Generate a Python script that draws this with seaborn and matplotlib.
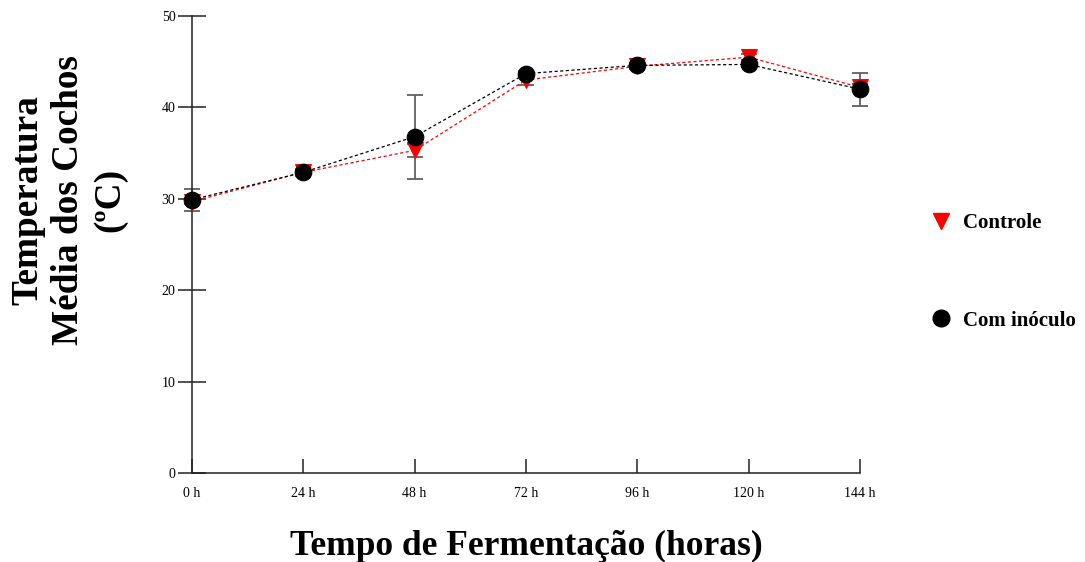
import numpy as np
import pandas as pd
import matplotlib
matplotlib.use("Agg")
import matplotlib.pyplot as plt
import seaborn as sns
from matplotlib.lines import Line2D

hours = [0, 24, 48, 72, 96, 120, 144]
tick_labels = ["0 h", "24 h", "48 h", "72 h", "96 h", "120 h", "144 h"]

controle = [29.7, 32.9, 35.3, 43.0, 44.5, 45.5, 42.2]
controle_sd = [0.3, 0.4, 0.7, 0.6, 0.3, 0.3, 0.4]

inoculo = [29.9, 32.9, 36.8, 43.7, 44.6, 44.7, 42.0]
inoculo_sd = [1.2, 0.4, 4.6, 0.3, 0.3, 0.3, 1.8]

groups = ["Controle", "Com inóculo"]

sns.set_style("white")
plt.rcParams["font.family"] = ["Liberation Serif", "DejaVu Serif"]
plt.rcParams["text.color"] = "black"
plt.rcParams["axes.labelcolor"] = "black"

df = pd.DataFrame({
    "Tempo": hours * 2,
    "Temperatura": controle + inoculo,
    "Grupo": [groups[0]] * len(hours) + [groups[1]] * len(hours),
})

fig = plt.figure(figsize=(10.85, 5.62), dpi=100)
ax = fig.add_axes([0.177, 0.1584, 0.6156, 0.8131])

palette = {"Controle": "#ff0000", "Com inóculo": "#000000"}
markers = {"Controle": "v", "Com inóculo": "o"}

# error bars underneath the markers
for vals, sd in [(controle, controle_sd), (inoculo, inoculo_sd)]:
    ax.errorbar(hours, vals, yerr=sd, fmt="none", ecolor="#606060",
                elinewidth=1.3, capsize=6, capthick=1.3, zorder=2, clip_on=False)

sns.lineplot(data=df, x="Tempo", y="Temperatura", hue="Grupo", style="Grupo",
             palette=palette, markers=markers, dashes=False,
             markersize=12, markeredgecolor=None, linewidth=0, legend=False,
             ax=ax, zorder=3)

# dotted connecting lines
for vals, col in [(controle, "#ff0000"), (inoculo, "#000000")]:
    ax.plot(hours, vals, color=col, linestyle=(0, (2.5, 2)), linewidth=0.9, zorder=2.5)

for ln in ax.lines:
    ln.set_clip_on(False)
for coll in ax.collections:
    coll.set_clip_on(False)

ax.set_xlim(0, 144)
ax.set_ylim(0, 50)
ax.set_xticks(hours)
ax.set_xticklabels(tick_labels)
ax.set_yticks([0, 10, 20, 30, 40, 50])
sns.despine(ax=ax)
for s in ["left", "bottom"]:
    ax.spines[s].set_linewidth(1.1)
    ax.spines[s].set_color("#222222")
ax.tick_params(axis="x", bottom=True, direction="in", length=10, width=1.1,
               colors="#222222", labelsize=10, labelcolor="black", pad=10)
ax.tick_params(axis="y", left=True, direction="inout", length=20, width=1.1,
               colors="#222222", labelsize=10, labelcolor="black", pad=2)

ax.set_xlabel("Tempo de Fermentação (horas)", fontsize=25.5, fontweight="bold")
ax.xaxis.set_label_coords(0.5, -0.125)
ax.set_ylabel("Temperatura\nMédia dos Cochos\n(ºC)", fontsize=26.8, fontweight="bold",
              linespacing=1.22)
ax.yaxis.set_label_coords(-0.097, 0.597)

handles = [
    Line2D([], [], marker="v", color="#ff0000", linestyle="none", markersize=12),
    Line2D([], [], marker="o", color="#000000", linestyle="none", markersize=12),
]
leg = fig.legend(handles, groups, loc="center left", bbox_to_anchor=(0.8575, 0.516),
                 frameon=False, labelspacing=3.7, handletextpad=0.55,
                 handlelength=1.0, borderpad=0, borderaxespad=0,
                 prop={"weight": "bold", "size": 15})

fig.savefig("out.png", dpi=100)
